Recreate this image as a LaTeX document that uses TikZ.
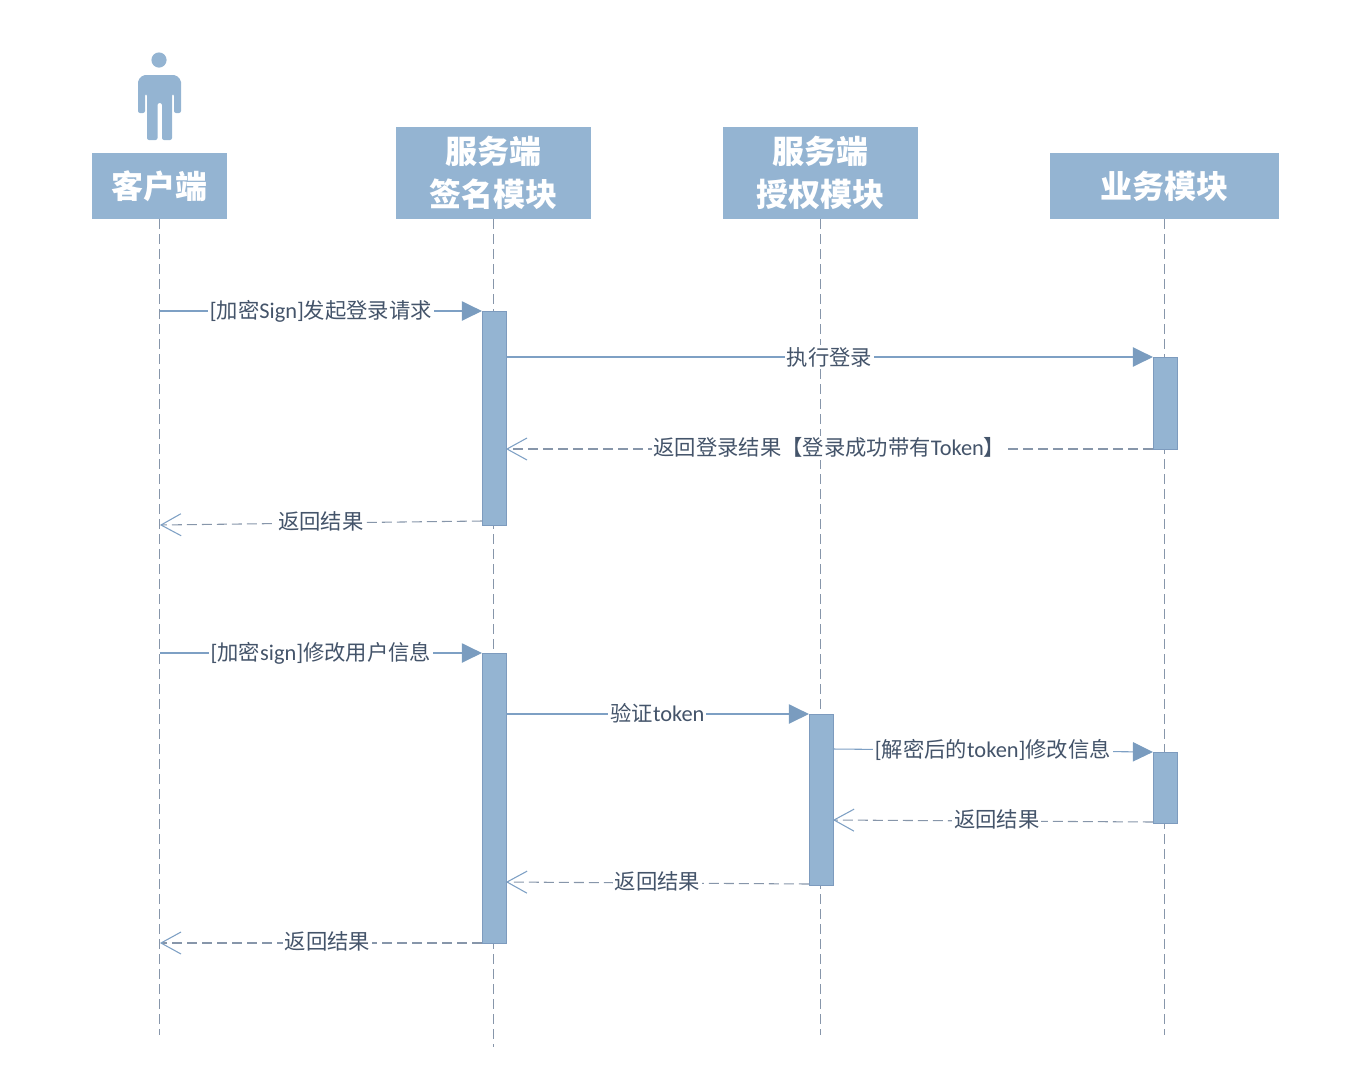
\documentclass[tikz,border=0pt]{standalone}
\usepackage{fontspec}
\setmainfont{Carlito}
\newfontfamily\cjk{Noto Sans CJK SC}
\newcommand{\zh}[1]{{\cjk\fontsize{16}{18}\selectfont #1}}
\definecolor{barblue}{RGB}{148,180,210}
\definecolor{barline}{RGB}{125,155,190}
\definecolor{tipblue}{RGB}{122,156,191}
\definecolor{lineblue}{RGB}{126,160,196}
\definecolor{dashgrey}{RGB}{135,150,170}
\definecolor{slatetext}{RGB}{68,84,106}
\usetikzlibrary{positioning,arrows.meta,backgrounds}

\begin{document}
\begin{tikzpicture}[
  x=0.75pt, y=-0.75pt,
  headbox/.style={fill=barblue, text=white, align=center, inner sep=0pt, outer sep=0pt,
                  minimum height=49.5pt, font=\fontsize{24}{32}\selectfont\bfseries\cjk},
  tallbox/.style={headbox, minimum height=69pt, minimum width=146.25pt},
  actbar/.style={draw=barline, line width=0.5pt, fill=barblue, minimum width=18pt,
                 inner sep=0pt, outer sep=0pt, anchor=north},
  lifeline/.style={draw=dashgrey, line width=0.8pt, dash pattern=on 7.5pt off 3.75pt},
  msg/.style={draw=lineblue, line width=0.8pt,
              -{Triangle[length=15pt,width=14.5pt,fill=tipblue,color=tipblue]}},
  ret/.style={draw=dashgrey, line width=0.8pt, dash pattern=on 7.5pt off 3.75pt,
              -{Straight Barb[length=15pt,width=16.5pt,color=lineblue,line width=0.8pt]}},
  msglab/.style={fill=white, inner sep=1.5pt, text=slatetext,
                 font=\fontsize{16.8}{18}\selectfont},
  retlab/.style={msglab, yshift=0.9pt},
]
\useasboundingbox (0,0) rectangle (1371,1079);

% --- header boxes ---
\node[headbox, minimum width=101.25pt, anchor=south west] (client) at (92.4,219) {客户端};
\node[tallbox, right=126.75pt of client.south east, anchor=south west] (signmod) {服务端\\签名模块};
\node[tallbox, right=99pt of signmod.south east, anchor=south west] (authmod) {服务端\\授权模块};
\node[headbox, minimum width=171.75pt, right=99pt of authmod.south east, anchor=south west] (bizmod) {业务模块};

% --- the person ---
\fill[barblue] (159,60) circle[radius=7.6];
\fill[barblue, rounded corners=1.5pt] (138,113) -- (138,80) -- (143,75) -- (176,75) -- (181,80) -- (181,113) -- (174,113)
  -- (174,94) -- (172,94) -- (172,140) -- (162,140) -- (162,103) -- (157.5,103)
  -- (157.5,140) -- (147,140) -- (147,94) -- (145,94) -- (145,113) -- cycle;

% --- activation bars ---
\node[actbar, minimum height=160.5pt, below=69pt of signmod.south, anchor=north] (loginbar) {};
\node[actbar, minimum height=69pt, below=103.5pt of bizmod.south, anchor=north] (bizbara) {};
\node[actbar, minimum height=217.5pt, below=325.5pt of signmod.south, anchor=north] (editbar) {};
\node[actbar, minimum height=128.25pt, below=371.25pt of authmod.south, anchor=north] (authbar) {};
\node[actbar, minimum height=53.25pt, below=399.75pt of bizmod.south, anchor=north] (bizbarb) {};

% --- lifelines ---
\coordinate[below=612pt of client.south] (clientend);
\coordinate[below=621pt of signmod.south] (signend);
\coordinate[below=612pt of authmod.south] (authend);
\coordinate[below=612pt of bizmod.south] (bizend);
\begin{scope}[on background layer]
  \draw[lifeline] (client.south) -- (clientend);
  \draw[lifeline] (signmod.south) -- (signend);
  \draw[lifeline] (authmod.south) -- (authend);
  \draw[lifeline] (bizmod.south) -- (bizend);
\end{scope}

% --- login ---
\draw[msg] (client.south |- loginbar.north west) -- node[msglab] {[\zh{加密}Sign]\zh{发起登录请求}} (loginbar.north west);
\draw[msg] (loginbar.east |- bizbara.north west) -- node[msglab] {\zh{执行登录}} (bizbara.north west);
\draw[ret] (bizbara.south west) -- node[retlab] {\zh{返回登录结果【登录成功带有}Token\zh{】}} (loginbar.east |- bizbara.south west);
\draw[ret] ([yshift=3pt]loginbar.south west) -- node[retlab] {\zh{返回结果}} (client.south |- loginbar.south west);

% --- edit user ---
\draw[msg] (client.south |- editbar.north west) -- node[msglab] {[\zh{加密}sign]\zh{修改用户信息}} (editbar.north west);
\draw[msg] (editbar.east |- authbar.north west) -- node[msglab, yshift=0.6pt] {\zh{验证}token} (authbar.north west);
\draw[msg] ([yshift=-26.25pt]authbar.north east) -- node[msglab, yshift=0.6pt] {[\zh{解密后的}token]\zh{修改信息}} (bizbarb.north west);
\draw[ret] ([yshift=0.75pt]bizbarb.south west) -- node[retlab, pos=0.488] {\zh{返回结果}} ([yshift=2.25pt]authbar.east |- bizbarb.south west);
\draw[ret] ([yshift=0.75pt]authbar.south west) -- node[retlab] {\zh{返回结果}} ([yshift=2.25pt]editbar.east |- authbar.south west);
\draw[ret] (editbar.south west) -- node[retlab, pos=0.48] {\zh{返回结果}} (client.south |- editbar.south west);
\end{tikzpicture}
\end{document}
